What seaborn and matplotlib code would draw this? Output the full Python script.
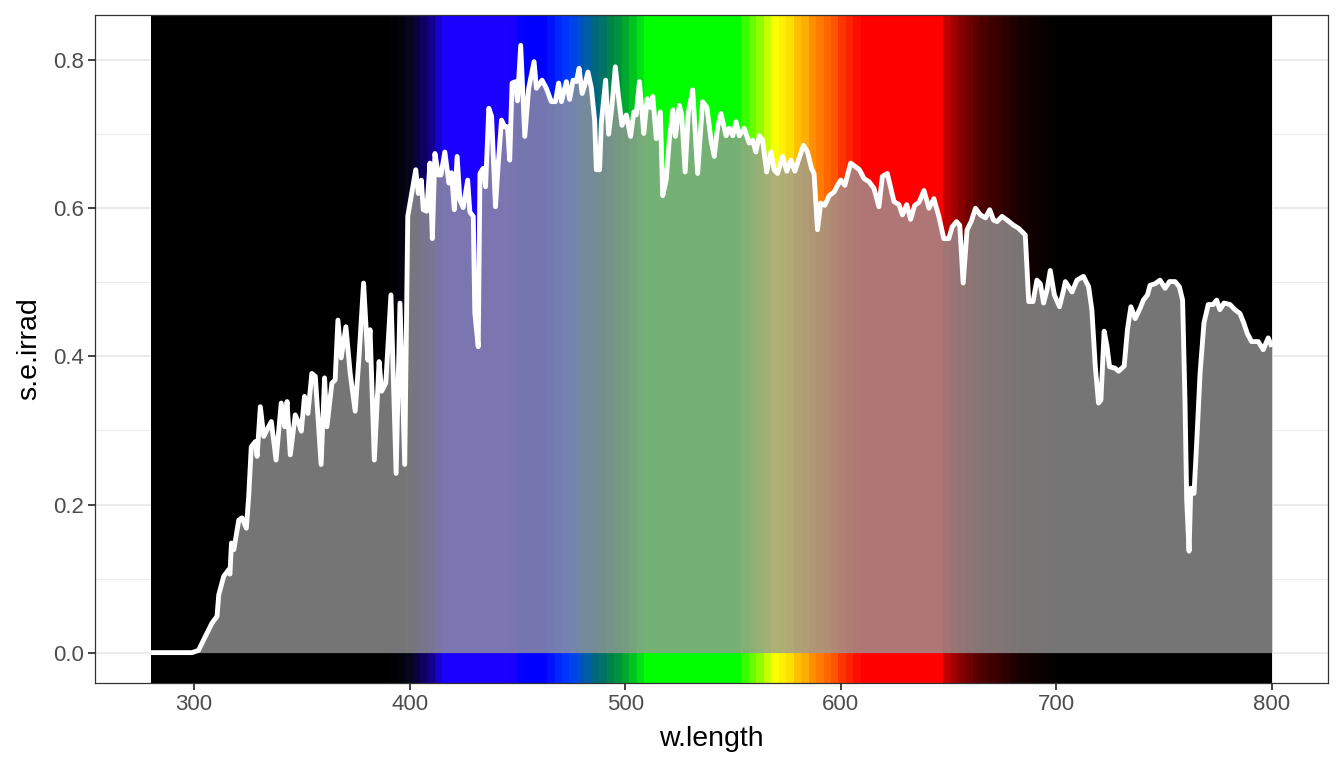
import numpy as np
import pandas as pd
import matplotlib
matplotlib.use("Agg")
import matplotlib.pyplot as plt
import seaborn as sns

## Data: solar spectral irradiance
w_length = [280, 299, 302, 305.2, 308.3, 310.6, 311.4, 313.7, 316, 316.6, 317.3, 318.4, 320.7, 322.2,
            324.2, 325.3, 326.5, 328.4, 329.2, 330.7, 332.3, 333.8, 335.8, 338, 340.4, 342, 343.1,
            344.6, 346.9, 348.5, 349.7, 351.2, 352.8, 354.6, 356.2, 358.9, 360.5, 361.6, 363.9,
            365.4, 366.7, 368.2, 370.4, 372.4, 374.7, 376.5, 378.6, 380.6, 381.6, 383.6, 385.8,
            387, 388.9, 391.3, 393.7, 395.5, 397.7, 399.1, 400.9, 402.8, 404, 405.4, 406.3, 407.9,
            409.4, 410.5, 411.7, 413.3, 414.5, 416.3, 418.2, 419.4, 420.7, 422, 423.3, 424.8,
            426.9, 427.9, 429.5, 430.2, 431.8, 432.6, 434.1, 435.2, 436.7, 438, 439.8, 441.1,
            442.6, 444.1, 445.4, 446.4, 447.5, 449.1, 450, 451.5, 453.4, 455.2, 457.7, 458.8,
            461.4, 463.4, 465.7, 467.6, 469.1, 470.4, 472.7, 474.2, 475.8, 477.3, 478.6, 480,
            481.2, 482.7, 484.3, 485.8, 486.6, 488.1, 488.9, 490.9, 492.3, 493.8, 495.4, 496.9,
            498.5, 500.5, 502.5, 504, 505.1, 506.6, 508.6, 510.2, 511.7, 512.8, 514.4, 516.3,
            517.4, 519, 520.5, 522.1, 523.3, 525.1, 526.2, 527.8, 529.3, 531.3, 533.6, 535.9,
            537.9, 539.8, 541.3, 542.9, 544.4, 546.8, 548.3, 549.9, 551.4, 552.9, 555.2, 557.5,
            559.1, 560.6, 562.2, 563.7, 565.6, 567.6, 569.1, 570.7, 573, 575, 576.9, 578.7,
            580.7, 582.7, 584.6, 586.4, 587.6, 589.2, 590.7, 592.6, 594.6, 596.9, 598.5, 600,
            601.9, 604.6, 606.9, 608.7, 610.8, 613.1, 615.4, 617.7, 619.3, 621.6, 624.7, 627,
            628.6, 630.6, 632.4, 634.3, 636.3, 638.6, 640.9, 643.2, 645.5, 647.8, 650.1, 651.7,
            653.7, 655.2, 656.8, 658.6, 660.5, 662.5, 664.8, 667.1, 669.1, 670.9, 672.5, 674.8,
            677.2, 680.2, 682.5, 685.6, 687.2, 689.2, 691, 692.6, 694.1, 695.7, 697.2, 699.1,
            701.5, 703.4, 704.2, 707.3, 709.6, 712.6, 715, 716.5, 718.1, 719.6, 720.7, 722.2,
            723.5, 724.7, 727.3, 728.9, 731.5, 733, 734.6, 736.6, 738.9, 740.4, 742.3, 743.5,
            745.8, 748.1, 750.5, 752.5, 755.1, 757.1, 758.6, 759.7, 760.5, 761.6, 762.4, 763.9,
            765.2, 766.7, 768.5, 770.5, 772.8, 774.4, 775.9, 777.8, 780.6, 782.9, 785.2, 787,
            788.6, 790.6, 793.7, 796, 798.3, 800]
s_e_irrad = [0, 0, 0.003, 0.022, 0.040, 0.049, 0.078, 0.103, 0.112, 0.106, 0.148, 0.139, 0.179, 0.182,
             0.168, 0.211, 0.278, 0.285, 0.265, 0.332, 0.292, 0.301, 0.312, 0.260, 0.337, 0.305, 0.339,
             0.267, 0.321, 0.310, 0.299, 0.346, 0.323, 0.377, 0.373, 0.254, 0.371, 0.305, 0.364,
             0.368, 0.449, 0.398, 0.440, 0.377, 0.326, 0.400, 0.499, 0.395, 0.436, 0.260, 0.393,
             0.353, 0.364, 0.483, 0.242, 0.472, 0.254, 0.589, 0.620, 0.652, 0.620, 0.638, 0.598, 0.596,
             0.661, 0.559, 0.674, 0.645, 0.645, 0.676, 0.634, 0.648, 0.598, 0.670, 0.611, 0.601,
             0.638, 0.595, 0.589, 0.459, 0.413, 0.647, 0.654, 0.629, 0.735, 0.724, 0.602, 0.661,
             0.719, 0.710, 0.710, 0.665, 0.769, 0.771, 0.745, 0.820, 0.697, 0.762, 0.798, 0.762,
             0.773, 0.762, 0.744, 0.744, 0.769, 0.744, 0.771, 0.747, 0.773, 0.771, 0.789, 0.755,
             0.766, 0.784, 0.762, 0.719, 0.652, 0.652, 0.715, 0.773, 0.700, 0.737, 0.791, 0.750,
             0.712, 0.726, 0.697, 0.730, 0.726, 0.771, 0.701, 0.748, 0.736, 0.751, 0.694, 0.730,
             0.617, 0.638, 0.694, 0.733, 0.697, 0.739, 0.726, 0.649, 0.730, 0.760, 0.647, 0.744,
             0.736, 0.692, 0.670, 0.710, 0.728, 0.698, 0.708, 0.698, 0.717, 0.698, 0.708, 0.688,
             0.692, 0.676, 0.698, 0.692, 0.649, 0.676, 0.652, 0.647, 0.670, 0.650, 0.665, 0.650,
             0.668, 0.685, 0.676, 0.654, 0.647, 0.571, 0.607, 0.604, 0.617, 0.622, 0.631, 0.638,
             0.631, 0.661, 0.656, 0.652, 0.640, 0.636, 0.627, 0.602, 0.643, 0.647, 0.609, 0.605,
             0.591, 0.605, 0.585, 0.604, 0.608, 0.624, 0.600, 0.613, 0.589, 0.559, 0.559, 0.575,
             0.582, 0.577, 0.499, 0.571, 0.582, 0.600, 0.591, 0.587, 0.598, 0.584, 0.582, 0.589,
             0.584, 0.577, 0.573, 0.564, 0.474, 0.474, 0.503, 0.498, 0.472, 0.490, 0.516, 0.483,
             0.467, 0.490, 0.501, 0.487, 0.503, 0.508, 0.494, 0.463, 0.386, 0.337, 0.341, 0.434,
             0.414, 0.386, 0.384, 0.380, 0.387, 0.436, 0.467, 0.451, 0.465, 0.476, 0.483, 0.496,
             0.498, 0.503, 0.492, 0.501, 0.501, 0.494, 0.476, 0.341, 0.206, 0.137, 0.222, 0.215,
             0.287, 0.377, 0.445, 0.470, 0.470, 0.476, 0.463, 0.472, 0.470, 0.463, 0.458, 0.445,
             0.431, 0.420, 0.420, 0.409, 0.425, 0.413]

df = pd.DataFrame({"w.length": w_length, "s.e.irrad": s_e_irrad})

## Wavelength colour guide (anchor colours for the background bands)
guide_wl = [280, 390, 395, 400, 405, 410, 416, 448, 452, 463, 467, 474, 479, 483, 487, 491, 494, 498,
            501, 504, 507, 510, 554, 556, 559, 563, 566, 570, 573, 577, 580, 584, 587, 591, 594,
            598, 601, 605, 608, 610, 646, 647, 651, 654, 658, 661, 665, 668, 672, 675, 679, 683,
            689, 700, 800]
guide_rgb = [(0, 0, 0), (0, 0, 0), (3, 3, 10), (5, 5, 30), (10, 0, 80), (20, 0, 140), (25, 0, 255),
             (25, 0, 255), (0, 0, 255), (0, 0, 255), (0, 30, 255), (0, 60, 255), (0, 80, 200),
             (0, 95, 160), (0, 105, 120), (0, 120, 90), (0, 135, 70), (0, 150, 60), (0, 175, 40),
             (0, 200, 30), (0, 225, 20), (0, 255, 0), (0, 255, 0), (70, 255, 0), (100, 255, 0),
             (150, 255, 0), (200, 255, 0), (255, 255, 0), (255, 240, 0), (255, 220, 0),
             (255, 190, 0), (255, 170, 0), (255, 140, 0), (255, 120, 0), (255, 100, 0),
             (255, 80, 0), (255, 50, 0), (255, 30, 0), (255, 10, 0), (255, 0, 0), (255, 0, 0),
             (210, 0, 0), (175, 0, 0), (150, 0, 0), (120, 0, 0), (100, 0, 0), (80, 0, 0),
             (70, 0, 0), (60, 0, 0), (50, 0, 0), (35, 0, 0), (25, 0, 0), (15, 0, 0), (0, 0, 0),
             (0, 0, 0)]
n_bands = 150

## Style
sns.set_theme(style="whitegrid")
plt.rcParams["font.family"] = ["Liberation Sans", "DejaVu Sans"]

fig, ax = plt.subplots(figsize=(13.44, 7.68), dpi=100)
fig.subplots_adjust(left=0.0707, right=0.988, top=0.9805, bottom=0.1107)

# background wavelength bands
edges = np.linspace(min(w_length), max(w_length), n_bands + 1)
centers = (edges[:-1] + edges[1:]) / 2
rgb = np.array(guide_rgb, dtype=float) / 255
band_cols = np.column_stack([np.interp(centers, guide_wl, rgb[:, i]) for i in range(3)])
for lo, hi, c in zip(edges[:-1], edges[1:], band_cols):
    ax.axvspan(lo, hi, color=c, lw=0, zorder=1)

# area under spectrum
ax.fill_between(df["w.length"], 0, df["s.e.irrad"], color=(0.6, 0.6, 0.6), alpha=0.77,
                lw=0, zorder=2)
sns.lineplot(data=df, x="w.length", y="s.e.irrad", color="white", linewidth=3.5, ax=ax,
             zorder=3, solid_joinstyle="round", solid_capstyle="butt")

ax.set_xticks([300, 400, 500, 600, 700, 800])
ax.set_yticks([0.0, 0.2, 0.4, 0.6, 0.8])
ax.set_yticklabels(["0.0", "0.2", "0.4", "0.6", "0.8"])
ax.set_xticks([350, 450, 550, 650, 750], minor=True)
ax.set_yticks([0.1, 0.3, 0.5, 0.7], minor=True)
# limits last so tick setting does not widen them
ax.set_xlim(254, 826)
ax.set_ylim(-0.041, 0.861)

ax.grid(which="major", color="#EBEBEB", linewidth=1.4, zorder=0)
ax.grid(which="minor", color="#EBEBEB", linewidth=0.7, zorder=0)
ax.set_axisbelow(True)
ax.set_facecolor("white")
for sp in ax.spines.values():
    sp.set_color("#333333")
    sp.set_linewidth(0.9)
    sp.set_zorder(5)

ax.tick_params(which="major", length=5, width=1.3, color="#333333", labelsize=16,
               labelcolor="#4D4D4D", pad=3, bottom=True, left=True)
ax.tick_params(which="minor", length=0, bottom=False, left=False)
ax.set_xlabel("w.length", fontsize=20.5, color="black", labelpad=8)
ax.set_ylabel("s.e.irrad", fontsize=20.5, color="black", labelpad=8)

plt.savefig("out.png", dpi=100)
plt.close()
